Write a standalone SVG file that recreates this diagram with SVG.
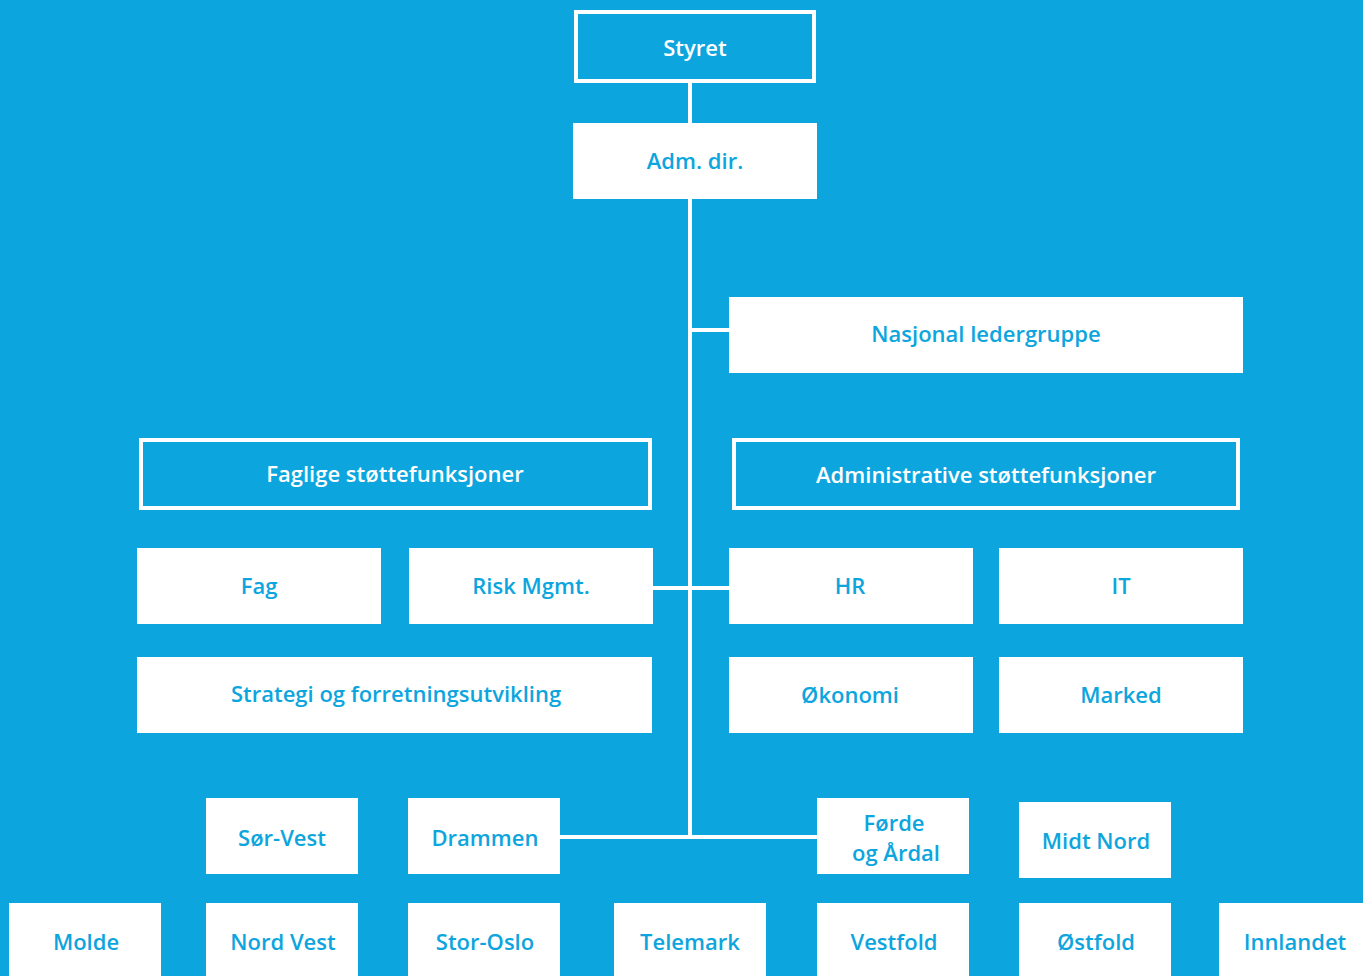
<svg xmlns="http://www.w3.org/2000/svg" width="1363" height="976" viewBox="0 0 1363 976">
<style>
.bg{fill:#0DA5DE}
.box{fill:#FFFFFF}
.ol{fill:none;stroke:#FFFFFF;stroke-width:4}
.t{font-family:"Open Sans","Liberation Sans",sans-serif;font-weight:600;font-size:22px;text-anchor:middle;fill:#0DA5DE}
.tw{font-family:"Open Sans","Liberation Sans",sans-serif;font-weight:600;font-size:22px;text-anchor:middle;fill:#FFFFFF}
.ln{stroke:#FFFFFF;stroke-width:4;fill:none}
</style>
<rect class="bg" x="0" y="0" width="1363" height="976"/>
<g id="connectors">
<line class="ln" x1="690" y1="83" x2="690" y2="123"/>
<line class="ln" x1="690" y1="199" x2="690" y2="839"/>
<line class="ln" x1="690" y1="330" x2="729" y2="330"/>
<line class="ln" x1="653" y1="588" x2="729" y2="588"/>
<line class="ln" x1="560" y1="837" x2="817" y2="837"/>
</g>
<g id="styret"><rect class="ol" x="576" y="12" width="238" height="69"/><text class="tw" x="695" y="56">Styret</text></g>
<g id="admdir"><rect class="box" x="573" y="123" width="244" height="76"/><text class="t" x="695" y="169">Adm. dir.</text></g>
<g id="nasjonal"><rect class="box" x="729" y="297" width="514" height="76"/><text class="t" x="986" y="342">Nasjonal ledergruppe</text></g>
<g id="faglige"><rect class="ol" x="141" y="440" width="509" height="68"/><text class="tw" x="395" y="482">Faglige støttefunksjoner</text></g>
<g id="administrative"><rect class="ol" x="734" y="440" width="504" height="68"/><text class="tw" x="986" y="483">Administrative støttefunksjoner</text></g>
<g id="fag"><rect class="box" x="137" y="548" width="244" height="76"/><text class="t" x="259" y="594">Fag</text></g>
<g id="risk"><rect class="box" x="409" y="548" width="244" height="76"/><text class="t" x="531" y="594">Risk Mgmt.</text></g>
<g id="hr"><rect class="box" x="729" y="548" width="244" height="76"/><text class="t" x="850" y="594">HR</text></g>
<g id="it"><rect class="box" x="999" y="548" width="244" height="76"/><text class="t" x="1121" y="594">IT</text></g>
<g id="strategi"><rect class="box" x="137" y="657" width="515" height="76"/><text class="t" x="396" y="702">Strategi og forretningsutvikling</text></g>
<g id="okonomi"><rect class="box" x="729" y="657" width="244" height="76"/><text class="t" x="850" y="703">Økonomi</text></g>
<g id="marked"><rect class="box" x="999" y="657" width="244" height="76"/><text class="t" x="1121" y="703">Marked</text></g>
<g id="sorvest"><rect class="box" x="206" y="798" width="152" height="76"/><text class="t" x="282" y="846">Sør-Vest</text></g>
<g id="drammen"><rect class="box" x="408" y="798" width="152" height="76"/><text class="t" x="485" y="846">Drammen</text></g>
<g id="forde"><rect class="box" x="817" y="798" width="152" height="76"/><text class="t" x="894" y="831">Førde</text><text class="t" x="896" y="861">og Årdal</text></g>
<g id="midtnord"><rect class="box" x="1019" y="802" width="152" height="76"/><text class="t" x="1096" y="849">Midt Nord</text></g>
<g id="molde"><rect class="box" x="9" y="903" width="152" height="80"/><text class="t" x="86" y="950">Molde</text></g>
<g id="nordvest"><rect class="box" x="206" y="903" width="152" height="80"/><text class="t" x="283" y="950">Nord Vest</text></g>
<g id="storoslo"><rect class="box" x="408" y="903" width="152" height="80"/><text class="t" x="485" y="950">Stor-Oslo</text></g>
<g id="telemark"><rect class="box" x="614" y="903" width="152" height="80"/><text class="t" x="690" y="950">Telemark</text></g>
<g id="vestfold"><rect class="box" x="817" y="903" width="152" height="80"/><text class="t" x="894" y="950">Vestfold</text></g>
<g id="ostfold"><rect class="box" x="1019" y="903" width="152" height="80"/><text class="t" x="1096" y="950">Østfold</text></g>
<g id="innlandet"><rect class="box" x="1219" y="903" width="152" height="80"/><text class="t" x="1295" y="950">Innlandet</text></g>
</svg>
